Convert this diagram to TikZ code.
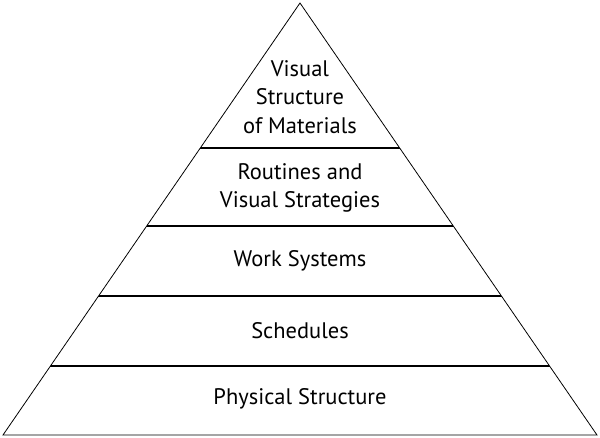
\documentclass[tikz,border=0pt]{standalone}
\usepackage{fontspec}
\setmainfont{PT Sans}
\begin{document}
\begin{tikzpicture}[x=0.02cm,y=-0.02cm]
        \tikzset{band/.style={line width=0.45pt},
          lbl/.style={align=center,font=\fontsize{12.8}{16.3}\selectfont}}
        \useasboundingbox (0, 0) rectangle (600, 438);
        % bands, each as its own trapezoid
        \foreach \t/\b in {3/147.5, 148.5/225.5, 226.5/295.5, 296.5/365.5, 366.5/435} {
          \pgfmathsetmacro{\wt}{(\t-3)/432*297}
          \pgfmathsetmacro{\wb}{(\b-3)/432*297}
          \draw[band] (300-\wt, \t) -- (300+\wt, \t) -- (300+\wb, \b) -- (300-\wb, \b) -- cycle;
        }
        \node[lbl] (materials) at (300, 97) {Visual\\Structure\\of Materials};
        \node[lbl] (routines) at (300, 188) {Routines and\\Visual Strategies};
        \node[lbl] (work) at (300, 261) {Work Systems};
        \node[lbl] (schedules) at (300, 331) {Schedules};
        \node[lbl] (physical) at (300, 399) {Physical Structure};
      \end{tikzpicture}
\end{document}
